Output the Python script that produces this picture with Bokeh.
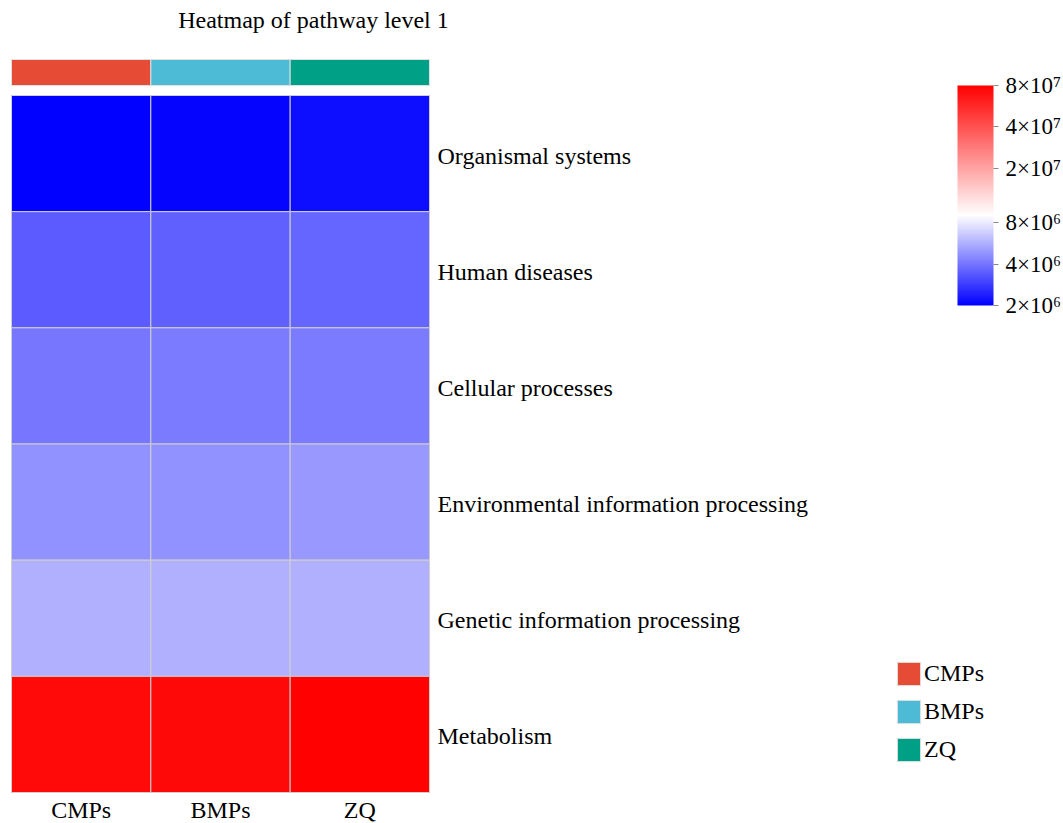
from bokeh.plotting import figure
from bokeh.models import (Range1d, LogColorMapper, ColorBar, FixedTicker, Legend,
                          LegendItem, Label, ColumnDataSource)
from bokeh.core.properties import value
from bokeh.embed import file_html
from bokeh.resources import INLINE

# ---------------- data ----------------
samples = ["CMPs", "BMPs", "ZQ"]
sample_colors = ["#E64B35", "#4DBBD5", "#00A087"]
pathways = ["Organismal systems", "Human diseases", "Cellular processes",
            "Environmental information processing", "Genetic information processing",
            "Metabolism"]
abund_CMPs = [2.00e6, 3.45e6, 4.05e6, 4.70e6, 5.65e6, 7.35e7]
abund_BMPs = [2.05e6, 3.51e6, 4.12e6, 4.74e6, 5.70e6, 7.50e7]
abund_ZQ = [2.16e6, 3.62e6, 4.15e6, 4.93e6, 5.70e6, 8.00e7]
cbar_ticks = [2e6, 4e6, 8e6, 2e7, 4e7, 8e7]
cbar_labels = ["2×10⁶", "4×10⁶", "8×10⁶", "2×10⁷", "4×10⁷", "8×10⁷"]

FONT = "Liberation Serif"
FS = "24px"

# ---------------- layout constants (pixels) ----------------
W, H = 1063, 823
HM_LEFT, HM_RIGHT = 11, 429
HM_TOP, HM_BOTTOM = 95, 792
cw = (HM_RIGHT - HM_LEFT) / len(samples)
rh = (HM_BOTTOM - HM_TOP) / len(pathways)
x_start = -HM_LEFT / cw
x_end = (W - HM_LEFT) / cw
y_start = -(H - HM_BOTTOM) / rh
y_end = HM_BOTTOM / rh

# palette blue -> white -> red, white at 41% of log range
def mix(c1, c2, f):
    return "#%02x%02x%02x" % tuple(int(round(a + (b - a) * f)) for a, b in zip(c1, c2))

WHITE_POS = 0.41
pal = []
N = 256
for k in range(N):
    t = (k + 0.5) / N
    if t < WHITE_POS:
        pal.append(mix((0, 0, 255), (255, 255, 255), t / WHITE_POS))
    else:
        pal.append(mix((255, 255, 255), (255, 0, 0), (t - WHITE_POS) / (1 - WHITE_POS)))
mapper = LogColorMapper(palette=pal, low=cbar_ticks[0], high=cbar_ticks[-1])

# heatmap table
cols = {"CMPs": abund_CMPs, "BMPs": abund_BMPs, "ZQ": abund_ZQ}
xs, ys, vals = [], [], []
npw = len(pathways)
for j, s in enumerate(samples):
    for i, pw in enumerate(pathways):
        xs.append(j + 0.5)
        ys.append(npw - 1 - i + 0.5)
        vals.append(cols[s][i])
hm_src = ColumnDataSource(dict(x=xs, y=ys, v=vals))

p = figure(width=W, height=H, x_range=Range1d(x_start, x_end), y_range=Range1d(y_start, y_end),
           output_backend="svg", toolbar_location=None, min_border=0,
           x_axis_location=None, y_axis_location=None)
p.grid.visible = False
p.outline_line_color = None
p.background_fill_color = "white"

p.rect(x="x", y="y", width=1, height=1, source=hm_src,
       fill_color={"field": "v", "transform": mapper}, line_color="#cfcfcf", line_width=1)

# annotation strip
ann_gap = 10 / rh
ann_h = 26 / rh
ann_src = ColumnDataSource(dict(x=[j + 0.5 for j in range(len(samples))],
                                y=[npw + ann_gap + ann_h / 2] * len(samples),
                                c=sample_colors, s=samples))
ann = p.rect(x="x", y="y", width=1, height=ann_h, source=ann_src,
             fill_color="c", line_color="#e0e0e0", line_width=1)

# row labels
p.text(x=[len(samples)] * npw, y=[npw - 1 - i + 0.5 for i in range(npw)], text=pathways,
       x_offset=8, y_offset=2, text_baseline="middle", text_align="left",
       text_font=value(FONT), text_font_size=FS, text_color="black")

# column labels
p.text(x=[j + 0.5 for j in range(len(samples))], y=[0] * len(samples), text=samples,
       y_offset=17, text_baseline="middle", text_align="center",
       text_font=value(FONT), text_font_size=FS, text_color="black")

# title
p.add_layout(Label(x=313, y=H - 19, x_units="screen", y_units="screen",
                   text="Heatmap of pathway level 1", text_align="center",
                   text_baseline="middle", text_font=FONT, text_font_size=FS,
                   text_color="black"))

# colour bar
cb = ColorBar(color_mapper=mapper, ticker=FixedTicker(ticks=cbar_ticks),
              major_label_overrides={t: l for t, l in zip(cbar_ticks, cbar_labels)},
              width=36, height=220, location=(957, H - 85 - 220), padding=0,
              bar_line_color=None, major_tick_line_color="#888888", major_tick_out=5,
              major_tick_in=0, minor_tick_line_color=None, label_standoff=7,
              major_label_text_font=FONT, major_label_text_font_size="23px",
              major_label_text_color="black",
              background_fill_color=None, border_line_color=None)
p.add_layout(cb, "center")

# legend
items = [LegendItem(label=s, renderers=[ann], index=j) for j, s in enumerate(samples)]
leg = Legend(items=items, location=(894, H - 764), glyph_width=29, glyph_height=29,
             spacing=9, label_standoff=1, padding=0, margin=0, border_line_color=None,
             background_fill_alpha=0, label_text_font=FONT, label_text_font_size=FS,
             label_text_color="black")
p.add_layout(leg, "center")

open("out.html", "w").write(file_html(p, INLINE))
